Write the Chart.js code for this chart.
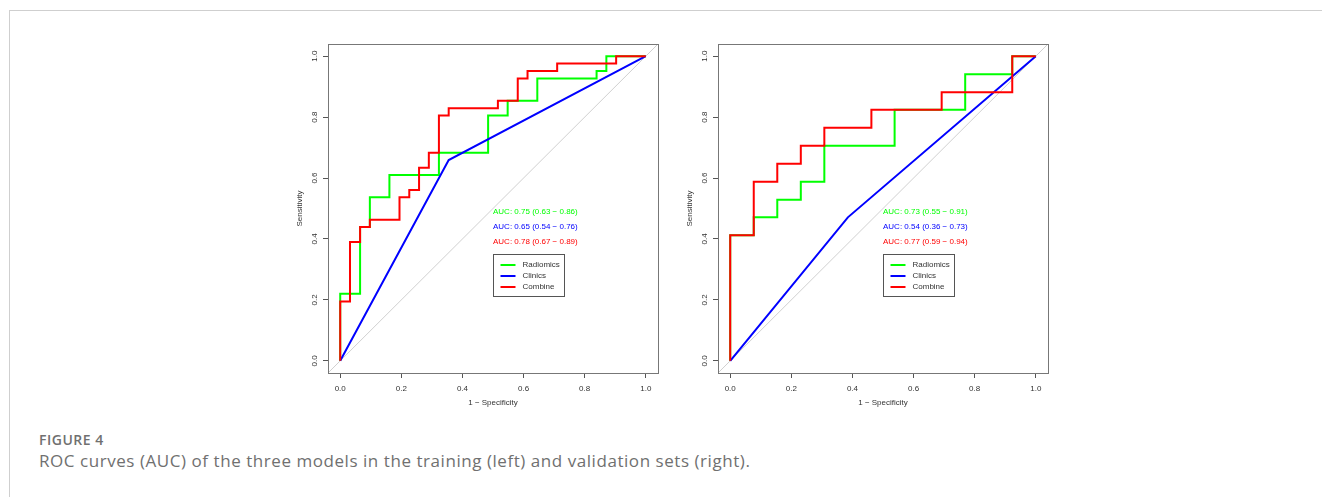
<!DOCTYPE html>
<html>
<head>
<meta charset="utf-8">
<script src="https://cdn.jsdelivr.net/npm/chart.js@4.4.1/dist/chart.umd.min.js"></script>
<style>
  html, body { margin: 0; padding: 0; background: #fff; }
  body { width: 1322px; height: 497px; position: relative; overflow: hidden; }
  .frame { position: absolute; left: 9px; top: 10px; width: 1400px; height: 600px;
           border-top: 1px solid #cfcfcf; border-left: 1px solid #cfcfcf; }
  .plot { position: absolute; top: 34px; width: 390px; height: 390px; }
  #plotTrain { left: 280px; }
  #plotValid { left: 670px; }
  .fig-label { position: absolute; left: 39px; top: 430px; font: 600 14px 'Open Sans', sans-serif;
               letter-spacing: 0.5px; color: #707070; white-space: nowrap; }
  .fig-caption { position: absolute; left: 39px; top: 449px; font: 17px 'Open Sans', sans-serif;
                 letter-spacing: 0.55px; color: #707070; white-space: nowrap; }
</style>
</head>
<body>
<div class="frame"></div>
<div class="plot" id="plotTrain"><canvas id="chartTrain" width="390" height="390"></canvas></div>
<div class="plot" id="plotValid"><canvas id="chartValid" width="390" height="390"></canvas></div>
<div class="fig-label">FIGURE 4</div>
<div class="fig-caption">ROC curves (AUC) of the three models in the training (left) and validation sets (right).</div>

<script>
// tick labels shared by both axes
const TICKS = [0, 0.2, 0.4, 0.6, 0.8, 1.0];
const SERIES = ['Radiomics', 'Clinics', 'Combine'];

// training set (1 - specificity / sensitivity)
const trainRadFpr = [0, 0, 0.065, 0.065, 0.097, 0.097, 0.161, 0.161, 0.323, 0.323, 0.484, 0.484, 0.548, 0.548, 0.645, 0.645, 0.839, 0.839, 0.871, 0.871, 1];
const trainRadTpr = [0, 0.220, 0.220, 0.439, 0.439, 0.537, 0.537, 0.610, 0.610, 0.683, 0.683, 0.805, 0.805, 0.854, 0.854, 0.927, 0.927, 0.951, 0.951, 1, 1];
const trainCliFpr = [0, 0.355, 1];
const trainCliTpr = [0, 0.659, 1];
const trainComFpr = [0, 0, 0.032, 0.032, 0.065, 0.065, 0.097, 0.097, 0.194, 0.194, 0.226, 0.226, 0.258, 0.258, 0.290, 0.290, 0.323, 0.323, 0.355, 0.355, 0.516, 0.516, 0.581, 0.581, 0.613, 0.613, 0.710, 0.710, 0.903, 0.903, 1];
const trainComTpr = [0, 0.195, 0.195, 0.390, 0.390, 0.439, 0.439, 0.463, 0.463, 0.537, 0.537, 0.561, 0.561, 0.634, 0.634, 0.683, 0.683, 0.805, 0.805, 0.829, 0.829, 0.854, 0.854, 0.927, 0.927, 0.951, 0.951, 0.976, 0.976, 1, 1];
const trainAuc = ['AUC: 0.75 (0.63 \u2212 0.86)', 'AUC: 0.65 (0.54 \u2212 0.76)', 'AUC: 0.78 (0.67 \u2212 0.89)'];

// validation set
const validRadFpr = [0, 0, 0.077, 0.077, 0.154, 0.154, 0.231, 0.231, 0.308, 0.308, 0.538, 0.538, 0.769, 0.769, 0.923, 0.923, 1];
const validRadTpr = [0, 0.412, 0.412, 0.471, 0.471, 0.529, 0.529, 0.588, 0.588, 0.706, 0.706, 0.824, 0.824, 0.941, 0.941, 1, 1];
const validCliFpr = [0, 0.385, 1];
const validCliTpr = [0, 0.471, 1];
const validComFpr = [0, 0, 0.077, 0.077, 0.154, 0.154, 0.231, 0.231, 0.308, 0.308, 0.462, 0.462, 0.692, 0.692, 0.923, 0.923, 1];
const validComTpr = [0, 0.412, 0.412, 0.588, 0.588, 0.647, 0.647, 0.706, 0.706, 0.765, 0.765, 0.824, 0.824, 0.882, 0.882, 1, 1];
const validAuc = ['AUC: 0.73 (0.55 \u2212 0.91)', 'AUC: 0.54 (0.36 \u2212 0.73)', 'AUC: 0.77 (0.59 \u2212 0.94)'];

// chance line
const diag = [-0.04, 1.04];

(function () {
  'use strict';

  const COLORS = ['#00ff00', '#0000ff', '#ff0000'];
  const FAMILY = '"Liberation Sans", Arial, sans-serif';
  const FONT = { family: FAMILY, size: 8 };
  const INK = '#333';
  // where the AUC text and legend sit, in data units
  const AUC_X = 0.5, AUC_Y = [0.49, 0.44, 0.39];
  const LEG_X = 0.5, LEG_Y = 0.35;

  function pts(xs, ys) {
    return xs.map((x, i) => ({ x, y: ys[i] }));
  }

  const decor = {
    id: 'rocDecor',
    afterDatasetsDraw(chart, args, opts) {
      const { ctx, scales: { x, y } } = chart;
      ctx.save();
      ctx.font = '8px ' + FAMILY;
      ctx.textAlign = 'left';
      ctx.textBaseline = 'middle';
      const ax = x.getPixelForValue(AUC_X);
      opts.auc.forEach((t, i) => {
        ctx.fillStyle = COLORS[i];
        ctx.fillText(t, ax, y.getPixelForValue(AUC_Y[i]));
      });

      // legend box
      const lx = Math.round(x.getPixelForValue(LEG_X)) + 0.5;
      const ly = Math.round(y.getPixelForValue(LEG_Y)) + 0.5;
      ctx.strokeStyle = '#555';
      ctx.lineWidth = 1;
      ctx.strokeRect(lx, ly, 71, 42);
      SERIES.forEach((s, i) => {
        const ry = ly + 10.5 + i * 11;
        ctx.strokeStyle = COLORS[i];
        ctx.lineWidth = 2;
        ctx.beginPath();
        ctx.moveTo(lx + 7, ry);
        ctx.lineTo(lx + 22, ry);
        ctx.stroke();
        ctx.fillStyle = INK;
        ctx.fillText(s, lx + 29, ry);
      });
      ctx.restore();
    },
    afterDraw(chart) {
      const { ctx, chartArea: a, scales: { y } } = chart;
      ctx.save();
      ctx.font = '8px ' + FAMILY;
      ctx.fillStyle = INK;
      ctx.textAlign = 'center';
      ctx.textBaseline = 'middle';
      TICKS.forEach((v) => {
        ctx.save();
        ctx.translate(a.left - 13, y.getPixelForValue(v));
        ctx.rotate(-Math.PI / 2);
        ctx.fillText(v.toFixed(1), 0, 0);
        ctx.restore();
      });
      ctx.strokeStyle = '#777';
      ctx.lineWidth = 1;
      ctx.strokeRect(Math.round(a.left) + 0.5, Math.round(a.top) + 0.5,
        Math.round(a.right - a.left), Math.round(a.bottom - a.top));
      ctx.restore();
    }
  };

  function axis(title, isX) {
    return {
      type: 'linear',
      min: -0.04,
      max: 1.04,
      afterBuildTicks: (s) => { s.ticks = TICKS.map((v) => ({ value: v })); },
      afterFit: (s) => { if (isX) s.height = 51; else s.width = 48; },
      grid: { drawOnChartArea: false, drawTicks: true, tickLength: 5, color: '#555', lineWidth: 1 },
      border: { display: false },
      ticks: {
        display: isX,
        font: FONT,
        color: INK,
        padding: 6,
        maxRotation: 0,
        autoSkip: false,
        callback: (v) => Number(v).toFixed(1)
      },
      title: {
        display: true,
        text: title,
        font: FONT,
        color: INK,
        padding: isX ? { top: 0, bottom: 16 } : { top: 15, bottom: 0 }
      }
    };
  }

  function makeChart(id, curves, auc) {
    const datasets = curves.map((c, i) => ({
      label: SERIES[i],
      data: pts(c[0], c[1]),
      borderColor: COLORS[i],
      borderWidth: 2,
      showLine: true,
      pointRadius: 0,
      fill: false,
      tension: 0,
      order: 2 - i
    }));
    datasets.push({
      label: 'chance',
      data: pts(diag, diag),
      borderColor: '#d0d0d0',
      borderWidth: 1,
      showLine: true,
      pointRadius: 0,
      order: 9
    });
    return new Chart(document.getElementById(id), {
      type: 'scatter',
      data: { datasets },
      options: {
        responsive: false,
        animation: false,
        layout: { padding: { top: 10, right: 12, bottom: 0, left: 0 } },
        scales: { x: axis('1 \u2212 Specificity', true), y: axis('Sensitivity', false) },
        plugins: { legend: { display: false }, tooltip: { enabled: false }, rocDecor: { auc } }
      },
      plugins: [decor]
    });
  }

  makeChart('chartTrain', [[trainRadFpr, trainRadTpr], [trainCliFpr, trainCliTpr], [trainComFpr, trainComTpr]], trainAuc);
  makeChart('chartValid', [[validRadFpr, validRadTpr], [validCliFpr, validCliTpr], [validComFpr, validComTpr]], validAuc);
})();
</script>
</body>
</html>
